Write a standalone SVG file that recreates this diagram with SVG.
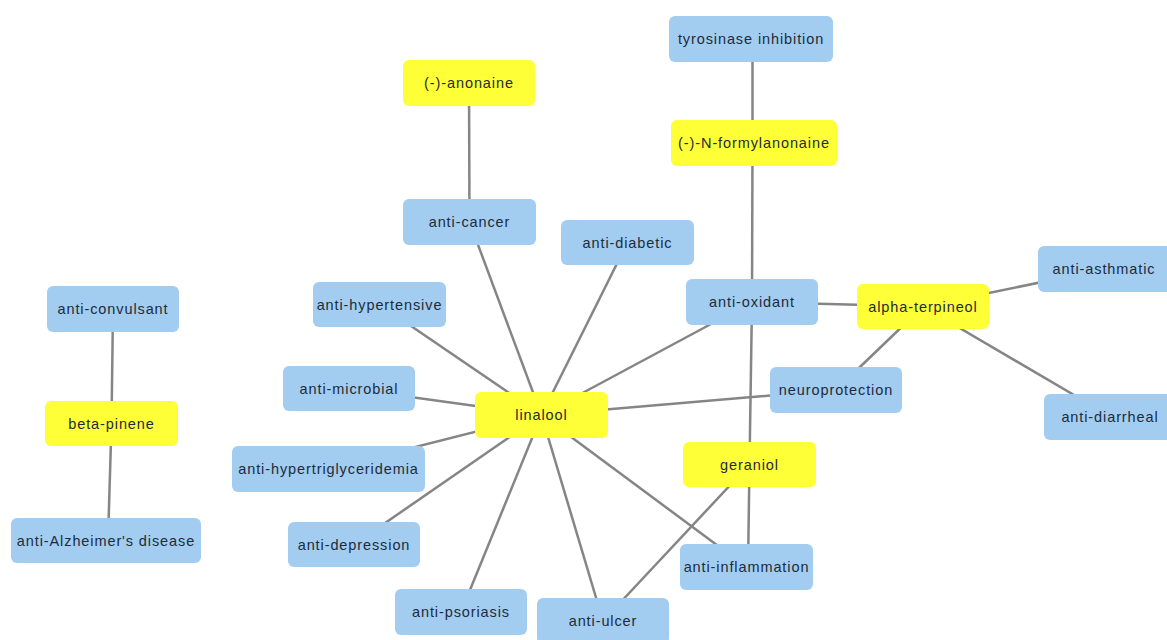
<svg xmlns="http://www.w3.org/2000/svg" width="1167" height="640" viewBox="0 0 1167 640">
<style>
.e{stroke:#858585;stroke-width:2.5;fill:none}
.b{fill:#a2cdf1}
.y{fill:#ffff38}
text{font-family:"Liberation Sans",Arial,sans-serif;font-size:14.5px;letter-spacing:0.9px;fill:#1e2b3a;text-anchor:middle}
</style>
<rect width="1167" height="640" fill="#ffffff"/>
<g id="connectors">
<line class="e" x1="752.5" y1="39" x2="752.5" y2="143"/>
<line class="e" x1="752.5" y1="143" x2="752" y2="302"/>
<line class="e" x1="469" y1="83" x2="469.5" y2="222"/>
<line class="e" x1="469.5" y1="222" x2="541.5" y2="415"/>
<line class="e" x1="627.5" y1="242.5" x2="541.5" y2="415"/>
<line class="e" x1="379.5" y1="304.5" x2="541.5" y2="415"/>
<line class="e" x1="349" y1="388.5" x2="541.5" y2="415"/>
<line class="e" x1="752" y1="302" x2="541.5" y2="415"/>
<line class="e" x1="836" y1="390" x2="541.5" y2="415"/>
<line class="e" x1="328.5" y1="469" x2="541.5" y2="415"/>
<line class="e" x1="354" y1="544.5" x2="541.5" y2="415"/>
<line class="e" x1="461" y1="612" x2="541.5" y2="415"/>
<line class="e" x1="603" y1="621" x2="541.5" y2="415"/>
<line class="e" x1="746.5" y1="567" x2="541.5" y2="415"/>
<line class="e" x1="752" y1="302" x2="923" y2="306.5"/>
<line class="e" x1="923" y1="306.5" x2="1105.5" y2="269"/>
<line class="e" x1="923" y1="306.5" x2="1111.5" y2="417"/>
<line class="e" x1="923" y1="306.5" x2="836" y2="390"/>
<line class="e" x1="752" y1="302" x2="749.5" y2="464.5"/>
<line class="e" x1="749.5" y1="464.5" x2="748" y2="567"/>
<line class="e" x1="749.5" y1="464.5" x2="603" y2="621"/>
<line class="e" x1="113" y1="309" x2="111.5" y2="423.5"/>
<line class="e" x1="111.5" y1="423.5" x2="108" y2="540.5"/>
</g>
<g id="n-tyrosinase"><rect class="b" x="669" y="16" width="164" height="46" rx="6"/><text x="751" y="44">tyrosinase inhibition</text></g>
<g id="n-anonaine"><rect class="y" x="403" y="60" width="132" height="46" rx="6"/><text x="469" y="88">(-)-anonaine</text></g>
<g id="n-nformylanonaine"><rect class="y" x="671" y="120" width="166" height="46" rx="6"/><text x="754" y="148">(-)-N-formylanonaine</text></g>
<g id="n-cancer"><rect class="b" x="403" y="199" width="133" height="46" rx="6"/><text x="469.5" y="227">anti-cancer</text></g>
<g id="n-diabetic"><rect class="b" x="561" y="220" width="133" height="45" rx="6"/><text x="627.5" y="247.5">anti-diabetic</text></g>
<g id="n-convulsant"><rect class="b" x="47" y="286" width="132" height="46" rx="6"/><text x="113" y="314">anti-convulsant</text></g>
<g id="n-hypertensive"><rect class="b" x="313" y="282" width="133" height="45" rx="6"/><text x="379.5" y="309.5">anti-hypertensive</text></g>
<g id="n-oxidant"><rect class="b" x="686" y="279" width="132" height="46" rx="6"/><text x="752" y="307">anti-oxidant</text></g>
<g id="n-alphaterpineol"><rect class="y" x="857" y="284" width="132" height="45" rx="6"/><text x="923" y="311.5">alpha-terpineol</text></g>
<g id="n-asthmatic"><rect class="b" x="1038" y="246" width="135" height="46" rx="6"/><text x="1104" y="274">anti-asthmatic</text></g>
<g id="n-microbial"><rect class="b" x="283" y="366" width="132" height="45" rx="6"/><text x="349" y="393.5">anti-microbial</text></g>
<g id="n-linalool"><rect class="y" x="475" y="392" width="133" height="46" rx="6"/><text x="541.5" y="420">linalool</text></g>
<g id="n-neuroprotection"><rect class="b" x="770" y="367" width="132" height="46" rx="6"/><text x="836" y="395">neuroprotection</text></g>
<g id="n-diarrheal"><rect class="b" x="1044" y="394" width="135" height="46" rx="6"/><text x="1110" y="422">anti-diarrheal</text></g>
<g id="n-betapinene"><rect class="y" x="45" y="401" width="133" height="45" rx="6"/><text x="111.5" y="428.5">beta-pinene</text></g>
<g id="n-hypertriglyceridemia"><rect class="b" x="232" y="446" width="193" height="46" rx="6"/><text x="328.5" y="474">anti-hypertriglyceridemia</text></g>
<g id="n-geraniol"><rect class="y" x="683" y="442" width="133" height="45" rx="6"/><text x="749.5" y="469.5">geraniol</text></g>
<g id="n-alzheimer"><rect class="b" x="11" y="518" width="190" height="45" rx="6"/><text x="106" y="545.5">anti-Alzheimer's disease</text></g>
<g id="n-depression"><rect class="b" x="288" y="522" width="132" height="45" rx="6"/><text x="354" y="549.5">anti-depression</text></g>
<g id="n-inflammation"><rect class="b" x="680" y="544" width="133" height="46" rx="6"/><text x="746.5" y="572">anti-inflammation</text></g>
<g id="n-psoriasis"><rect class="b" x="395" y="589" width="132" height="46" rx="6"/><text x="461" y="617">anti-psoriasis</text></g>
<g id="n-ulcer"><rect class="b" x="537" y="598" width="132" height="46" rx="6"/><text x="603" y="626">anti-ulcer</text></g>
</svg>
